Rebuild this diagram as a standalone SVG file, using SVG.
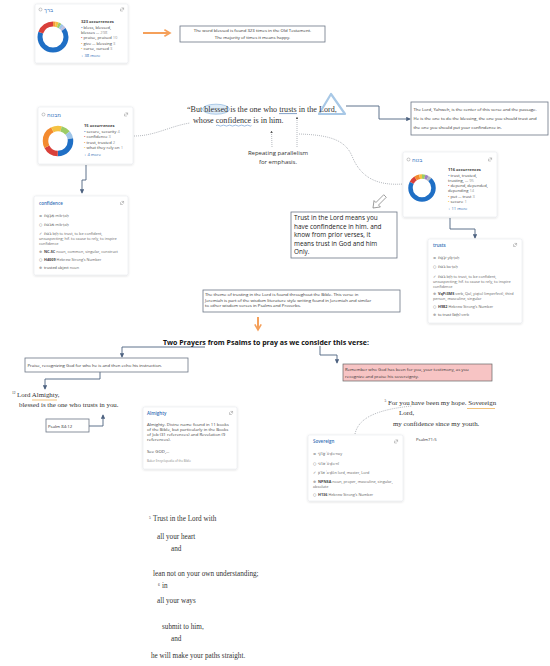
<svg xmlns="http://www.w3.org/2000/svg" width="550" height="666" viewBox="0 0 550 666">
<defs>
<style>
.sans{font-family:"Open Sans","Noto Sans",sans-serif;}
.serif{font-family:"Liberation Serif",serif;fill:#333;}
.heb{font-family:"DejaVu Sans",sans-serif;}
.card{fill:#fff;stroke:#e2e5ea;stroke-width:0.5;filter:url(#sh);}
.box{fill:#fff;stroke:#6b7685;stroke-width:0.8;}
.ct{font-family:"Open Sans","Noto Sans",sans-serif;font-size:4.1px;fill:#444;}
.rt{font-family:"Open Sans","Noto Sans",sans-serif;font-size:3.8px;fill:#666;}
.ic{font-family:"DejaVu Sans",sans-serif;font-size:3.8px;fill:#777;}
.hd{font-family:"Open Sans","Noto Sans",sans-serif;font-size:4.5px;fill:#2f6db5;font-weight:600;}
.bt{font-family:"Open Sans","Noto Sans",sans-serif;font-size:4.3px;fill:#333;}
.at{font-family:"Open Sans","Noto Sans",sans-serif;font-size:4.3px;fill:#444;}
.conn{fill:none;stroke:#4d6280;stroke-width:0.9;marker-end:url(#ah);}
.dot{fill:none;stroke:#8a8f98;stroke-width:0.7;stroke-dasharray:0.9 1.1;}
.org{fill:none;stroke:#f5a05a;stroke-width:2;marker-end:url(#oh);}
.seg{fill:none;}
.gray{fill:#999;}
.icon{fill:none;stroke:#777;stroke-width:0.4;}
</style>
<filter id="sh" x="-10%" y="-10%" width="120%" height="130%">
<feDropShadow dx="0" dy="0.6" stdDeviation="0.9" flood-color="#000" flood-opacity="0.16"/>
</filter>
<marker id="ah" viewBox="0 0 6 6" refX="5" refY="3" markerWidth="5" markerHeight="5" orient="auto"><path d="M0,0 L6,3 L0,6 z" fill="#4d6280"/></marker>
<marker id="dh" viewBox="0 0 6 6" refX="5" refY="3" markerWidth="4" markerHeight="4" orient="auto"><path d="M0,0 L6,3 L0,6 z" fill="#555"/></marker>
<marker id="oh" viewBox="0 0 10 10" refX="8" refY="5" markerWidth="4" markerHeight="4" orient="auto"><path d="M1,1 L8,5 L1,9" fill="none" stroke="#f5a05a" stroke-width="2"/></marker>
<path id="cardicon" d="M0.5,1.2 v2.3 h2.3 M1.4,0.4 h2.2 v2.2 M3.6,0.4 l-2,2" class="icon"/>
</defs>

<!-- connectors -->
<g id="connectors">
<line x1="143" y1="33" x2="170" y2="33" class="org"/>
<path d="M134,136 C155,136 170,126 190,123" class="dot"/>
<polyline points="86,165 86,180 82,180 82,193" class="conn"/>
<polyline points="346,106 379,106 379,119 410,119" class="conn"/>
<path d="M272,147 L271.5,131" class="dot" marker-end="url(#dh)"/>
<path d="M297,147 L297,117" class="dot" marker-end="url(#dh)"/>
<path d="M299,134 C330,135 345,140 352,156 C360,176 375,186 403,184" class="dot"/>
<polygon transform="translate(385,196) rotate(135)" points="0,-1.8 11,-1.8 11,-4.5 17,0 11,4.5 11,1.8 0,1.8" fill="#fff" stroke="#666" stroke-width="0.6"/>
<polyline points="450,218 450,229 475,229 475,238" class="conn"/>
<line x1="258" y1="317" x2="258" y2="330" class="org"/>
<polyline points="205,347 122,347 122,357" class="conn"/>
<polyline points="320,346 320,355 337,355 337,363" class="conn"/>
<polyline points="100,372 100,379 45,379 45,389" class="conn"/>
<polyline points="89,426 103,426 103,415" class="conn"/>
<path d="M355,434 C358,420 372,410 412,406" class="dot"/>
</g>

<!-- top-left card -->
<g id="card-barak">
<rect x="35" y="4" width="93" height="59" rx="1.5" class="card"/>
<circle cx="40.5" cy="9.5" r="1.5" class="icon"/>
<text x="44" y="11.5" class="heb" font-size="5.5" fill="#3a78c2">ברך</text>
<use href="#cardicon" x="120" y="7.5"/>
<g transform="rotate(-90 53 37)" stroke-width="5">
<circle cx="53" cy="37" r="13" class="seg" stroke="#f39c3d" stroke-dasharray="2.45 81.68" stroke-dashoffset="0"/>
<circle cx="53" cy="37" r="13" class="seg" stroke="#f5c242" stroke-dasharray="2.45 81.68" stroke-dashoffset="-2.45"/>
<circle cx="53" cy="37" r="13" class="seg" stroke="#9ccc65" stroke-dasharray="2.45 81.68" stroke-dashoffset="-4.9"/>
<circle cx="53" cy="37" r="13" class="seg" stroke="#9fc5e8" stroke-dasharray="2.45 81.68" stroke-dashoffset="-7.35"/>
<circle cx="53" cy="37" r="13" class="seg" stroke="#c0bedc" stroke-dasharray="2.45 81.68" stroke-dashoffset="-9.8"/>
<circle cx="53" cy="37" r="13" class="seg" stroke="#1f6fc5" stroke-dasharray="53.09 81.68" stroke-dashoffset="-12.25"/>
<circle cx="53" cy="37" r="13" class="seg" stroke="#d9403a" stroke-dasharray="16.34 81.68" stroke-dashoffset="-65.34"/>
</g>
<text class="ct" font-weight="700" x="81" y="23">323 occurrences</text>
<text class="ct" x="81" y="28.5"><tspan fill="#1f6fc5">•</tspan> bless, blessed,</text>
<text class="ct" x="81" y="33.5">blesses … <tspan class="gray">298</tspan></text>
<text class="ct" x="81" y="39"><tspan fill="#d9403a">•</tspan> praise, praised <tspan class="gray">10</tspan></text>
<text class="ct" x="81" y="44.5"><tspan fill="#f39c3d">•</tspan> give … blessing <tspan class="gray">3</tspan></text>
<text class="ct" x="81" y="50"><tspan fill="#f5c242">•</tspan> curse, cursed <tspan class="gray">3</tspan></text>
<text class="ct" x="81" y="56.5" style="fill:#2f6db5">+ 38 more</text>
</g>

<g id="note-blessed">
<rect x="180" y="26" width="145" height="16" class="box"/>
<text class="bt" font-size="4.4" text-anchor="middle" x="252.5" y="32.3">The word blessed is found 323 times in the Old Testament.</text>
<text class="bt" font-size="4.4" text-anchor="middle" x="252.5" y="38.6">The majority of times it means happy.</text>
</g>

<!-- middle-left card -->
<g id="card-mibtach">
<rect x="38" y="107" width="95" height="57" rx="1.5" class="card"/>
<circle cx="43.5" cy="114.5" r="1.5" class="icon"/>
<text x="47" y="116.5" class="heb" font-size="5.5" fill="#3a78c2">מבטח</text>
<use href="#cardicon" x="124" y="112.5"/>
<g transform="rotate(-90 58 141)" stroke-width="5.5">
<circle cx="58" cy="141" r="12.5" class="seg" stroke="#f5c242" stroke-dasharray="3.14 78.54" stroke-dashoffset="0"/>
<circle cx="58" cy="141" r="12.5" class="seg" stroke="#9ccc65" stroke-dasharray="7.85 78.54" stroke-dashoffset="-3.14"/>
<circle cx="58" cy="141" r="12.5" class="seg" stroke="#9fc5e8" stroke-dasharray="6.28 78.54" stroke-dashoffset="-11"/>
<circle cx="58" cy="141" r="12.5" class="seg" stroke="#1f6fc5" stroke-dasharray="21.99 78.54" stroke-dashoffset="-17.28"/>
<circle cx="58" cy="141" r="12.5" class="seg" stroke="#d9403a" stroke-dasharray="13.35 78.54" stroke-dashoffset="-39.27"/>
<circle cx="58" cy="141" r="12.5" class="seg" stroke="#f38a2e" stroke-dasharray="19.63 78.54" stroke-dashoffset="-52.62"/>
<circle cx="58" cy="141" r="12.5" class="seg" stroke="#f5c242" stroke-dasharray="6.28 78.54" stroke-dashoffset="-72.26"/>
</g>
<text class="ct" font-weight="700" x="84" y="127">15 occurrences</text>
<text class="ct" x="84" y="132.5"><tspan fill="#1f6fc5">•</tspan> secure, security <tspan class="gray">4</tspan></text>
<text class="ct" x="84" y="138"><tspan fill="#d9403a">•</tspan> confidence <tspan class="gray">3</tspan></text>
<text class="ct" x="84" y="143.5"><tspan fill="#f38a2e">•</tspan> trust, trusted <tspan class="gray">2</tspan></text>
<text class="ct" x="84" y="149"><tspan fill="#f5c242">•</tspan> what they rely on <tspan class="gray">1</tspan></text>
<text class="ct" x="84" y="155.5" style="fill:#2f6db5">+ 4 more</text>
</g>

<!-- quote -->
<g id="quote">
<ellipse cx="216" cy="109.2" rx="13.5" ry="5" fill="#bcd7ef" fill-opacity="0.5" stroke="#8fb8de" stroke-width="0.7"/>
<polygon points="331,94 319,114 345,114" fill="none" stroke="#a8c8e6" stroke-width="2.2" stroke-linejoin="round"/>
<text class="serif" font-size="8.1" x="187" y="112">“But blessed is the one who trusts in the Lord,</text>
<line x1="279" y1="113.6" x2="297" y2="113.6" stroke="#2b5fa0" stroke-width="0.6"/>
<text class="serif" font-size="8.1" x="193" y="123">whose confidence is in him.</text>
<path d="M216,125.6 q1.5,-1 3,0 t3,0 t3,0 t3,0 t3,0 t3,0 t3,0 t3,0 t3,0 t3,0 t3,0 t2.5,0" fill="none" stroke="#5a8fcf" stroke-width="0.6"/>
</g>

<g id="note-parallelism">
<text class="sans" font-size="6" fill="#333" text-anchor="middle" x="278" y="155">Repeating parallelism</text>
<text class="sans" font-size="6" fill="#333" text-anchor="middle" x="278" y="164">for emphasis.</text>
</g>

<g id="note-lord">
<rect x="411" y="102" width="137" height="33" class="box"/>
<text class="bt" font-size="4.2" x="413.5" y="110.5">The Lord, Yahweh, is the center of this verse and the passage.</text>
<text class="bt" font-size="4.2" x="413.5" y="119.5">He is the one to do the blessing, the one you should trust and</text>
<text class="bt" font-size="4.2" x="413.5" y="128.5">the one you should put your confindence in.</text>
</g>

<!-- right card -->
<g id="card-batach">
<rect x="403" y="152" width="94" height="65" rx="1.5" class="card"/>
<circle cx="408.5" cy="159.5" r="1.5" class="icon"/>
<text x="412" y="161.5" class="heb" font-size="5.5" fill="#3a78c2">בטח</text>
<use href="#cardicon" x="488" y="157.5"/>
<g transform="rotate(-90 422 188)" stroke-width="4.5">
<circle cx="422" cy="188" r="11.5" class="seg" stroke="#9ccc65" stroke-dasharray="2.89 72.26" stroke-dashoffset="0"/>
<circle cx="422" cy="188" r="11.5" class="seg" stroke="#9b7fc4" stroke-dasharray="2.89 72.26" stroke-dashoffset="-2.89"/>
<circle cx="422" cy="188" r="11.5" class="seg" stroke="#b0b7c3" stroke-dasharray="2.89 72.26" stroke-dashoffset="-5.78"/>
<circle cx="422" cy="188" r="11.5" class="seg" stroke="#1f6fc5" stroke-dasharray="50.58 72.26" stroke-dashoffset="-8.67"/>
<circle cx="422" cy="188" r="11.5" class="seg" stroke="#d9403a" stroke-dasharray="5.78 72.26" stroke-dashoffset="-59.25"/>
<circle cx="422" cy="188" r="11.5" class="seg" stroke="#f38a2e" stroke-dasharray="4.34 72.26" stroke-dashoffset="-65.03"/>
<circle cx="422" cy="188" r="11.5" class="seg" stroke="#f5c242" stroke-dasharray="2.89 72.26" stroke-dashoffset="-69.37"/>
</g>
<text class="ct" font-weight="700" x="448" y="171">116 occurrences</text>
<text class="ct" x="448" y="176.5"><tspan fill="#1f6fc5">•</tspan> trust, trusted,</text>
<text class="ct" x="448" y="181.5">trusting, … <tspan class="gray">95</tspan></text>
<text class="ct" x="448" y="187"><tspan fill="#d9403a">•</tspan> depend, depended,</text>
<text class="ct" x="448" y="192">depending <tspan class="gray">14</tspan></text>
<text class="ct" x="448" y="197.5"><tspan fill="#f38a2e">•</tspan> put … trust <tspan class="gray">3</tspan></text>
<text class="ct" x="448" y="203"><tspan fill="#f5c242">•</tspan> secure <tspan class="gray">1</tspan></text>
<text class="ct" x="448" y="210" style="fill:#2f6db5">+ 11 more</text>
</g>

<!-- confidence card -->
<g id="card-confidence">
<rect x="34" y="196" width="94" height="79" rx="1.5" class="card"/>
<text class="hd" x="39" y="204.5">confidence</text>
<use href="#cardicon" x="120" y="201"/>
<text class="ic" x="39" y="217">≡</text><text class="rt" x="44" y="217"><tspan class="heb" font-size="4" fill="#444">מִבְטָח</tspan> mib·ṭāḥ</text>
<text class="ic" x="39" y="226">○</text><text class="rt" x="44" y="226"><tspan class="heb" font-size="4" fill="#444">מבטח</tspan> mib·ṭāḥ</text>
<text class="ic" x="39" y="235">✓</text><text class="rt" x="44" y="235"><tspan class="heb" font-size="4" fill="#444">בטח</tspan> bṭḥ to trust, to be confident,</text>
<text class="rt" x="39" y="240">unsuspecting; hif. to cause to rely, to inspire</text>
<text class="rt" x="39" y="245">confidence</text>
<text class="ic" x="39" y="253">⊕</text><text class="rt" x="44" y="253"><tspan fill="#444" font-weight="700">NC-SC</tspan> noun, common, singular, construct</text>
<text class="ic" x="39" y="261">○</text><text class="rt" x="44" y="261"><tspan fill="#444" font-weight="700">H4009</tspan> Hebrew Strong’s Number</text>
<text class="ic" x="39" y="269">⊕</text><text class="rt" x="44" y="269"><tspan fill="#444">trusted object</tspan> noun</text>
</g>

<g id="note-trust">
<rect x="291" y="212" width="106" height="46" class="box"/>
<text class="sans" font-size="6.4" fill="#222" x="294" y="220">Trust in the Lord means you</text>
<text class="sans" font-size="6.4" fill="#222" x="294" y="228.5">have confindence in him. and</text>
<text class="sans" font-size="6.4" fill="#222" x="294" y="237">know from prior verses, it</text>
<text class="sans" font-size="6.4" fill="#222" x="294" y="245.5">means trust in God and him</text>
<text class="sans" font-size="6.4" fill="#222" x="294" y="254">Only.</text>
</g>

<!-- trusts card -->
<g id="card-trusts">
<rect x="428" y="239" width="94" height="84" rx="1.5" class="card"/>
<text class="hd" x="433" y="246.5">trusts</text>
<use href="#cardicon" x="513" y="243"/>
<text class="ic" x="433" y="259">≡</text><text class="rt" x="438" y="259"><tspan class="heb" font-size="4" fill="#444">יִבְטַח</tspan> yiḇ·ṭaḥ</text>
<text class="ic" x="433" y="268">○</text><text class="rt" x="438" y="268"><tspan class="heb" font-size="4" fill="#444">בטח</tspan> bā·ṭaḥ</text>
<text class="ic" x="433" y="277.5">✓</text><text class="rt" x="438" y="277.5"><tspan class="heb" font-size="4" fill="#444">בטח</tspan> bṭḥ to trust, to be confident,</text>
<text class="rt" x="433" y="282.5">unsuspecting; hif. to cause to rely, to inspire</text>
<text class="rt" x="433" y="287.5">confidence</text>
<text class="ic" x="433" y="295">⊕</text><text class="rt" x="438" y="295"><tspan fill="#444" font-weight="700">VqPi3MS</tspan> verb, Qal, yiqtol (imperfect), third</text>
<text class="rt" x="433" y="300">person, masculine, singular</text>
<text class="ic" x="433" y="308">○</text><text class="rt" x="438" y="308"><tspan fill="#444" font-weight="700">H982</tspan> Hebrew Strong’s Number</text>
<text class="ic" x="433" y="316">⊕</text><text class="rt" x="438" y="316"><tspan fill="#444">to trust (bṭḥ)</tspan> verb</text>
</g>

<g id="note-theme">
<rect x="203" y="290" width="197" height="22" class="box"/>
<text class="bt" font-size="4.35" x="205" y="296">The theme of trusting in the Lord is found throughout the Bible. This verse in</text>
<text class="bt" font-size="4.35" x="205" y="301.6">Jeremiah is part of the wisdom literature style writing found in Jeremiah and similar</text>
<text class="bt" font-size="4.35" x="205" y="307.2">to other wisdom verses in Psalms and Proverbs.</text>
</g>

<g id="heading">
<text class="sans" font-size="7" font-weight="700" fill="#111" text-anchor="middle" x="266" y="345">Two Prayers from Psalms to pray as we consider this verse:</text>
</g>

<g id="note-praise">
<rect x="25" y="358" width="163" height="14" class="box"/>
<text class="bt" font-size="4.4" x="27.5" y="366.5">Praise, recognizing God for who he is  and then echo his instruction.</text>
</g>

<g id="note-remember">
<rect x="343" y="364" width="149" height="17" fill="#f7c4c4" stroke="#666" stroke-width="0.7"/>
<text class="bt" font-size="4.6" x="345" y="371.3">Remember who God has been for you, your testimony, as you</text>
<text class="bt" font-size="4.6" x="345" y="378">recognize and praise his sovereignty.</text>
</g>

<g id="psalm84">
<line x1="32" y1="400" x2="57" y2="400" stroke="#f2c27a" stroke-width="1"/>
<text class="serif" font-size="3.5" x="12" y="394">12</text>
<text class="serif" font-size="6.9" x="17" y="397">Lord Almighty,</text>
<text class="serif" font-size="6.9" x="19" y="407">blessed is the one who trusts in you.</text>
</g>

<g id="ref-psalm84">
<rect x="46" y="419" width="43" height="13" class="box"/>
<text class="bt" font-size="4.8" x="48" y="427.5">Psalm 84:12</text>
</g>

<!-- Almighty card -->
<g id="card-almighty">
<rect x="143" y="407" width="94" height="62" rx="1.5" class="card"/>
<text class="hd" x="147" y="414.5">Almighty</text>
<use href="#cardicon" x="229" y="411"/>
<text class="at" x="147" y="426">Almighty. Divine name found in 11 books</text>
<text class="at" x="147" y="431">of the Bible, but particularly in the Books</text>
<text class="at" x="147" y="436">of Job (31 references) and Revelation (9</text>
<text class="at" x="147" y="441">references).</text>
<text class="at" x="147" y="453">See GOD,…</text>
<text class="at" style="font-size:3px;fill:#888" x="147" y="462">Baker Encyclopedia of the Bible</text>
</g>

<g id="psalm71">
<line x1="467" y1="408.5" x2="495" y2="408.5" stroke="#f2c27a" stroke-width="1"/>
<text class="serif" font-size="3.5" x="384.5" y="402">5</text>
<text class="serif" font-size="6.9" x="388" y="404.5">For you have been my hope. Sovereign</text>
<text class="serif" font-size="6.9" x="399" y="415">Lord,</text>
<text class="serif" font-size="6.9" x="393" y="425.5">my confidence since my youth.</text>
</g>

<g id="ref-psalm71">
<text class="bt" font-size="5.2" x="416" y="441">Psalm71:5</text>
</g>

<!-- Sovereign card -->
<g id="card-sovereign">
<rect x="308" y="435" width="95" height="66" rx="1.5" class="card"/>
<text class="hd" x="313" y="443">Sovereign</text>
<use href="#cardicon" x="394" y="439.5"/>
<text class="ic" x="313" y="455">≡</text><text class="rt" x="318" y="455"><tspan class="heb" font-size="4" fill="#444">אֲדֹנָי</tspan> ʾă·ḏō·nāy</text>
<text class="ic" x="313" y="464.5">○</text><text class="rt" x="318" y="464.5"><tspan class="heb" font-size="4" fill="#444">אדני</tspan> ʾă·ḏō·nî</text>
<text class="ic" x="313" y="474">✓</text><text class="rt" x="318" y="474"><tspan class="heb" font-size="4" fill="#444">אדון</tspan> ʾā·ḏôn lord, master, Lord</text>
<text class="ic" x="313" y="483">⊕</text><text class="rt" x="318" y="483"><tspan fill="#444" font-weight="700">NPNSA</tspan> noun, proper, masculine, singular,</text>
<text class="rt" x="313" y="488">absolute</text>
<text class="ic" x="313" y="496">○</text><text class="rt" x="318" y="496"><tspan fill="#444" font-weight="700">H136</tspan> Hebrew Strong’s Number</text>
</g>

<!-- Proverbs 3:5-6 -->
<g id="poem">
<text class="serif" font-size="3.6" x="149" y="519">5</text>
<text class="serif" font-size="7.2" x="153" y="521">Trust in the Lord with</text>
<text class="serif" font-size="7.2" x="157" y="539">all your heart</text>
<text class="serif" font-size="7.2" x="171" y="551">and</text>
<text class="serif" font-size="7.2" x="153" y="576">lean not on your own understanding;</text>
<text class="serif" font-size="3.6" x="158" y="586">6</text>
<text class="serif" font-size="7.2" x="162" y="588">in</text>
<text class="serif" font-size="7.2" x="157" y="603">all your ways</text>
<text class="serif" font-size="7.2" x="162" y="629">submit to him,</text>
<text class="serif" font-size="7.2" x="171" y="641">and</text>
<text class="serif" font-size="7.2" x="151" y="658">he will make your paths straight.</text>
</g>
</svg>
